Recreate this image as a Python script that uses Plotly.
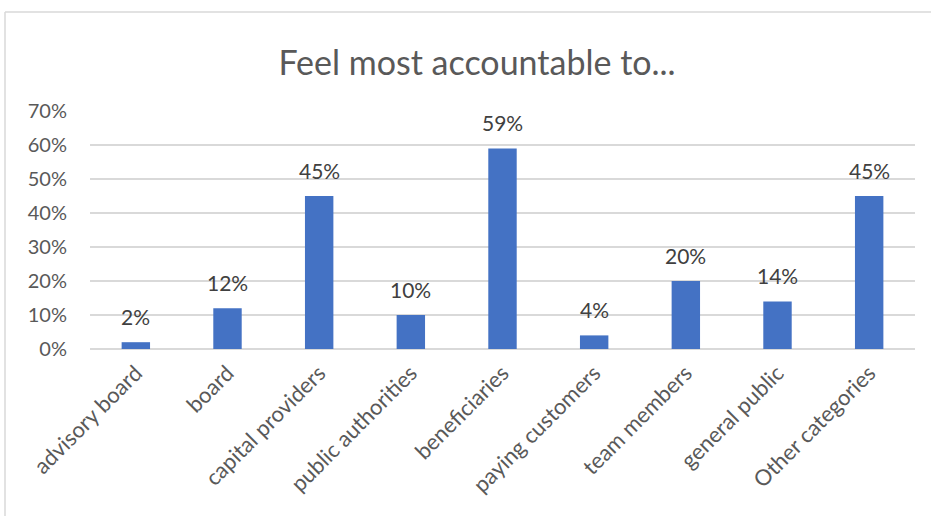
import plotly.graph_objects as go

# Survey results: share of respondents naming each group
categories = [
    "advisory board", "board", "capital providers", "public authorities",
    "beneficiaries", "paying customers", "team members", "general public",
    "Other categories",
]
shares = [0.02, 0.12, 0.45, 0.10, 0.59, 0.04, 0.20, 0.14, 0.45]
y_ticks = [0, 0.1, 0.2, 0.3, 0.4, 0.5, 0.6, 0.7]
y_tick_labels = ["0%", "10%", "20%", "30%", "40%", "50%", "60%", "70%"]
title_text = "Feel most accountable to..."

W, H = 931, 516
ML, MR, MT, MB = 90, 16, 111, 167
FONT = "Lato, Calibri, sans-serif"
GRID = "#d9d9d9"

fig = go.Figure(
    go.Bar(
        x=categories,
        y=shares,
        marker=dict(color="#4472C4", line=dict(width=0)),
        hoverinfo="x+y",
    )
)

# value labels above each bar
for cat, val in zip(categories, shares):
    fig.add_annotation(
        x=cat, y=val, xref="x", yref="y",
        text=f"{round(val * 100)}%",
        showarrow=False, yanchor="bottom", yshift=11,
        font=dict(family=FONT, size=21, color="#404040"),
    )

# chart frame (left and top edges)
pw = W - ML - MR
ph = H - MT - MB
px = lambda v: (v - ML) / pw
py = lambda v: (H - MB - v) / ph
fig.add_shape(type="line", xref="paper", yref="paper",
              x0=px(5), x1=px(5), y0=py(12), y1=py(H + 5),
              line=dict(color=GRID, width=1.5))
fig.add_shape(type="line", xref="paper", yref="paper",
              x0=px(5), x1=px(W + 5), y0=py(12), y1=py(12),
              line=dict(color=GRID, width=1.5))

fig.update_layout(
    width=W, height=H,
    margin=dict(l=ML, r=MR, t=MT, b=MB),
    paper_bgcolor="white", plot_bgcolor="white",
    bargap=0.69,
    showlegend=False,
    title=dict(
        text=title_text, xref="container", yref="container",
        x=477 / W, xanchor="center", y=1 - 63 / H, yanchor="middle",
        font=dict(family=FONT, size=34, color="#595959"),
    ),
    xaxis=dict(
        tickangle=-45,
        tickfont=dict(family=FONT, size=22, color="#595959"),
        showgrid=False, showline=False, zeroline=False,
        ticks="", ticklabelstandoff=6,
    ),
    yaxis=dict(
        range=[0, 0.7],
        tickvals=y_ticks, ticktext=y_tick_labels,
        tickfont=dict(family=FONT, size=20, color="#595959"),
        showgrid=True, gridcolor=GRID, gridwidth=1.5,
        zeroline=True, zerolinecolor=GRID, zerolinewidth=1.5,
        showline=False, ticks="", ticklabelstandoff=22,
    ),
)

fig.write_html("out.html")
